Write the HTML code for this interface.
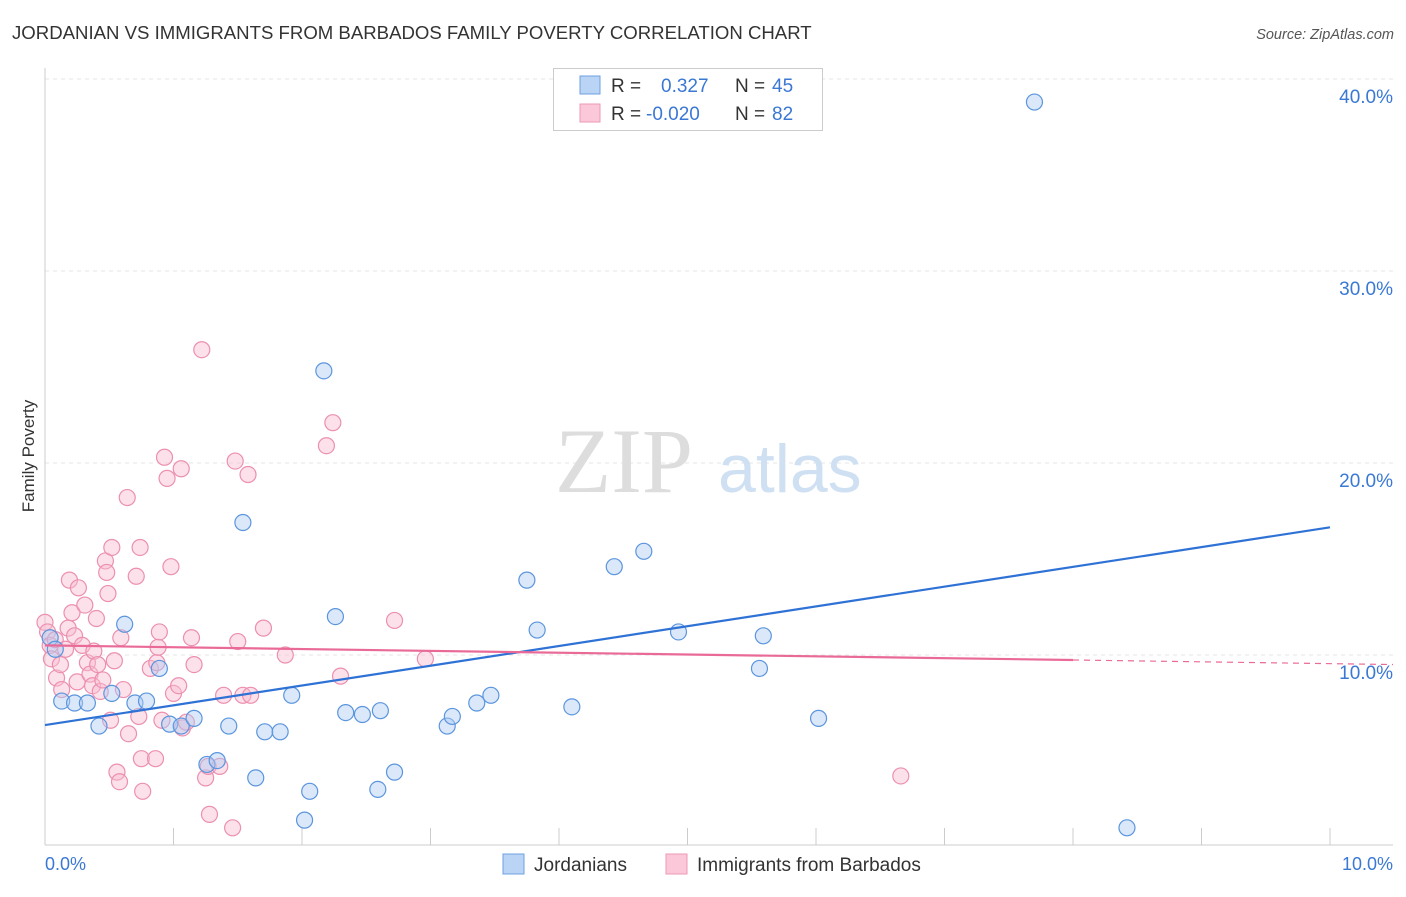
<!DOCTYPE html>
<html><head><meta charset="utf-8"><style>
body{margin:0;background:#fff;font-family:"Liberation Sans",sans-serif;}
</style></head><body>
<svg width="1406" height="892" xmlns="http://www.w3.org/2000/svg" font-family="Liberation Sans, sans-serif">
<text x="12" y="39" font-size="18.6" fill="#333">JORDANIAN VS IMMIGRANTS FROM BARBADOS FAMILY POVERTY CORRELATION CHART</text>
<text x="1394" y="39" font-size="14.5" fill="#555" text-anchor="end" font-style="italic">Source: ZipAtlas.com</text>
<g id="grid"></g>
<text x="555" y="492" font-size="92" fill="#ddd" font-family="Liberation Serif, serif">ZIP</text>
<text x="718" y="492" font-size="68" fill="#cfe0f3">atlas</text>
<line x1="45" y1="68" x2="45" y2="845" stroke="#ccc"/>
<line x1="45" y1="845" x2="1393" y2="845" stroke="#ccc"/>
<g id="xticks"></g>
<g id="ylabels"></g>
<text x="45" y="870" font-size="18" fill="#3a78d4">0.0%</text>
<text x="1393" y="870" font-size="18" fill="#3a78d4" text-anchor="end">10.0%</text>
<text transform="translate(34,456) rotate(-90)" font-size="17" fill="#333" text-anchor="middle">Family Poverty</text>
<g id="pink"></g>
<g id="blue"></g>
<g id="lines"></g>
<g>
<rect x="553.5" y="68.5" width="269" height="62" fill="#fff" stroke="#ccc"/>
<rect x="580" y="76" width="20" height="18" fill="#b9d4f5" stroke="#6f9fe0"/>
<rect x="580" y="104" width="20" height="18" fill="#fac8d8" stroke="#ee9ab5"/>
<text x="611" y="92" font-size="19" fill="#333">R =</text>
<text x="661" y="92" font-size="19" fill="#3a78d4">0.327</text>
<text x="735" y="92" font-size="19" fill="#333">N =</text>
<text x="772" y="92" font-size="19" fill="#3a78d4">45</text>
<text x="611" y="120" font-size="19" fill="#333">R =</text>
<text x="646" y="120" font-size="19" fill="#3a78d4">-0.020</text>
<text x="735" y="120" font-size="19" fill="#333">N =</text>
<text x="772" y="120" font-size="19" fill="#3a78d4">82</text>
</g>
<g>
<rect x="503" y="854" width="21" height="20" fill="#b9d4f5" stroke="#6f9fe0"/>
<text x="534" y="871" font-size="19" fill="#333">Jordanians</text>
<rect x="666" y="854" width="21" height="20" fill="#fac8d8" stroke="#ee9ab5"/>
<text x="697" y="871" font-size="19" fill="#333">Immigrants from Barbados</text>
</g>
</svg>
<script>
const yTicks=[10,20,30,40];
const xTickVals=[0,1,2,3,4,5,6,7,8,9,10];
const blueX=[0.13,0.23,0.33,0.42,0.52,0.62,0.7,0.79,0.89,0.97,1.06,1.16,1.26,1.34,1.43,1.54,1.64,1.71,1.83,1.92,2.06,2.02,2.17,2.26,2.34,2.47,2.61,2.59,2.72,3.13,3.17,3.36,3.47,3.75,3.83,4.1,4.43,4.66,4.93,5.56,5.59,6.02,7.7,8.42,0.04,0.08];
const blueY=[7.6,7.5,7.5,6.3,8.0,11.6,7.5,7.6,9.3,6.4,6.3,6.7,4.3,4.5,6.3,16.9,3.6,6.0,6.0,7.9,2.9,1.4,24.8,12.0,7.0,6.9,7.1,3.0,3.9,6.3,6.8,7.5,7.9,13.9,11.3,7.3,14.6,15.4,11.2,9.3,11.0,6.7,38.8,1.0,10.9,10.3];
const pinkX=[0,0.02,0.04,0.05,0.08,0.09,0.12,0.13,0.16,0.18,0.19,0.21,0.23,0.25,0.26,0.29,0.31,0.33,0.35,0.37,0.38,0.40,0.41,0.43,0.45,0.47,0.48,0.49,0.51,0.52,0.54,0.56,0.58,0.59,0.61,0.64,0.65,0.71,0.73,0.74,0.75,0.76,0.82,0.86,0.87,0.88,0.89,0.91,0.93,0.95,0.98,1.0,1.04,1.06,1.07,1.10,1.14,1.16,1.22,1.25,1.27,1.28,1.36,1.39,1.46,1.48,1.50,1.54,1.58,1.60,1.70,1.87,2.19,2.24,2.30,2.72,2.96,6.66];
const pinkY=[11.7,11.2,10.5,9.8,10.8,8.8,9.5,8.2,10.3,11.4,13.9,12.2,11.0,8.6,13.5,10.5,12.6,9.6,9.0,8.4,10.2,11.9,9.5,8.1,8.7,14.9,14.3,13.2,6.6,15.6,9.7,3.9,3.4,10.9,8.2,18.2,5.9,14.1,6.8,15.6,4.6,2.9,9.3,4.6,9.6,10.4,11.2,6.6,20.3,19.2,14.6,8.0,8.4,19.7,6.2,6.5,10.9,9.5,25.9,3.6,4.2,1.7,4.2,7.9,1.0,20.1,10.7,7.9,19.4,7.9,11.4,10.0,20.9,22.1,8.9,11.8,9.8,3.7];
// trend lines: [intercept %, slope % per x-%]
const blueTrend=[6.35,1.03];
const pinkTrend=[10.5,-0.095];
const NS='http://www.w3.org/2000/svg';
const sx=v=>45+v*128.5, sy=v=>847-v*19.2;
function mk(t,a){const e=document.createElementNS(NS,t);for(const k in a)e.setAttribute(k,a[k]);return e;}
const grid=document.getElementById('grid'),yl=document.getElementById('ylabels');
yTicks.forEach(t=>{const l=mk('line',{x1:45,x2:1393,y1:sy(t),y2:sy(t),stroke:'#e4e4e4','stroke-dasharray':'4,4'});

grid.appendChild(l);
const tx=mk('text',{x:1393,y:sy(t)+24,'font-size':19,fill:'#3a78d4','text-anchor':'end'});tx.textContent=t.toFixed(1)+'%';

yl.appendChild(tx);});
const xt=document.getElementById('xticks');
xTickVals.forEach(v=>{const l=mk('line',{x1:sx(v),x2:sx(v),y1:828,y2:845,stroke:'#ccc'});

xt.appendChild(l);});
function pts(g,X,Y,f,s,n){X.forEach((x,i)=>{const c=mk('circle',{cx:sx(x),cy:sy(Y[i]),r:8,fill:f,'fill-opacity':0.45,stroke:s,'stroke-width':1.2});

g.appendChild(c);});}
pts(document.getElementById('pink'),pinkX,pinkY,'#f9bcd0','#ec8fb0','barbados-point');
pts(document.getElementById('blue'),blueX,blueY,'#aecdf3','#5b95dd','jordanian-point');
const lg=document.getElementById('lines');
const tv=(tr,x)=>tr[0]+tr[1]*x;
const bl=mk('line',{x1:sx(0),y1:sy(tv(blueTrend,0)),x2:sx(10),y2:sy(tv(blueTrend,10)),stroke:'#2f72d6','stroke-width':2.2});

lg.appendChild(bl);
const pl=mk('line',{x1:sx(0),y1:sy(tv(pinkTrend,0)),x2:sx(8),y2:sy(tv(pinkTrend,8)),stroke:'#ea6a97','stroke-width':2.2});

lg.appendChild(pl);
const pd=mk('line',{x1:sx(8),y1:sy(tv(pinkTrend,8)),x2:1393,y2:sy(tv(pinkTrend,10.49)),stroke:'#ea6a97','stroke-width':1.2,'stroke-dasharray':'6,5'});

lg.appendChild(pd);
</script>
</body></html>
